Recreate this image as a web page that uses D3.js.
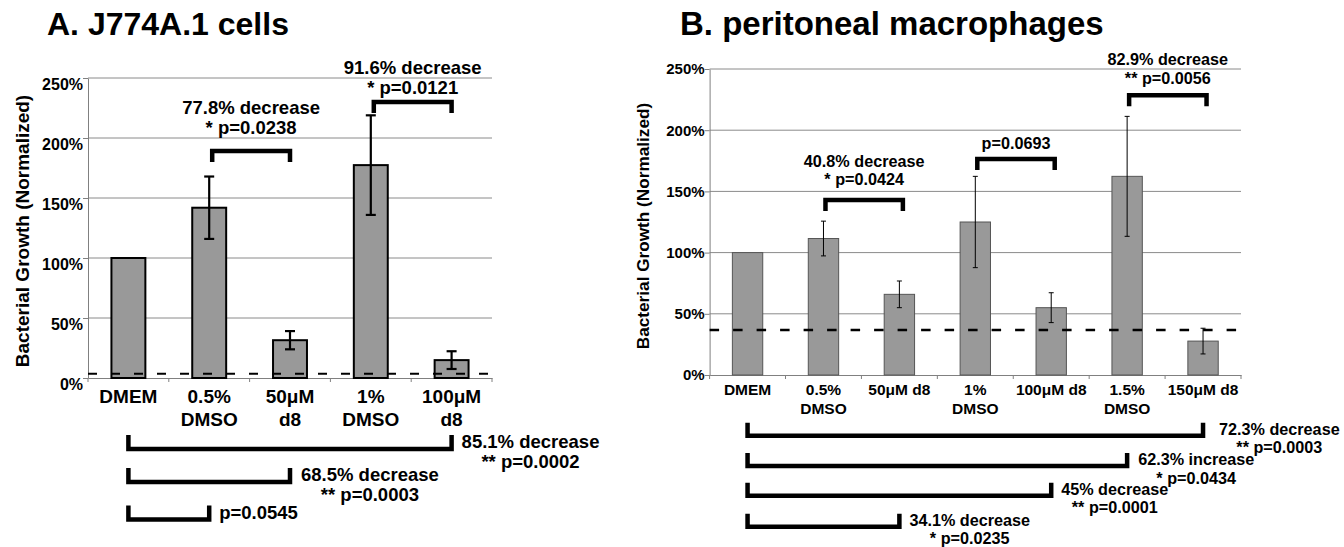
<!DOCTYPE html>
<html><head><meta charset="utf-8">
<script src="https://cdn.jsdelivr.net/npm/d3@7"></script>
<style>
body{margin:0;background:#fff}
svg{display:block}
text{font-family:"Liberation Sans",Arial,sans-serif;font-weight:bold;fill:#000}
</style>
</head><body>
<svg id="c" width="1344" height="547"></svg>
<script>
// ---------------- data ----------------
const yTicks = [0, 50, 100, 150, 200, 250];

const catsA = ["DMEM", "0.5%\nDMSO", "50μM\nd8", "1%\nDMSO", "100μM\nd8"];
const valsA = [100, 141.9, 31.5, 177.4, 14.9];
const errA  = [0, 26, 7.6, 41.5, 7.4];
const refA  = 3.5;
const topCompA = [
  {a: 1, b: 2, lines: ["77.8% decrease", "* p=0.0238"]},
  {a: 3, b: 4, lines: ["91.6% decrease", "* p=0.0121"]}
];
const botCompA = [
  {a: 0, b: 4, lines: ["85.1% decrease", "** p=0.0002"]},
  {a: 0, b: 2, lines: ["68.5% decrease", "** p=0.0003"]},
  {a: 0, b: 1, lines: ["p=0.0545"]}
];

const catsB = ["DMEM", "0.5%\nDMSO", "50μM d8", "1%\nDMSO", "100μM d8", "1.5%\nDMSO", "150μM d8"];
const valsB = [100, 111.5, 65.9, 125, 55, 162.3, 27.7];
const errB  = [0, 14.2, 10.9, 37.3, 12.2, 49, 10.5];
const refB  = 36.8;
const topCompB = [
  {a: 1, b: 2, lines: ["40.8% decrease", "* p=0.0424"]},
  {a: 3, b: 4, lines: ["p=0.0693"]},
  {a: 5, b: 6, lines: ["82.9% decrease", "** p=0.0056"]}
];
const botCompB = [
  {a: 0, b: 6, lines: ["72.3% decrease", "** p=0.0003"]},
  {a: 0, b: 5, lines: ["62.3% increase", "* p=0.0434"]},
  {a: 0, b: 4, lines: ["45% decrease", "** p=0.0001"]},
  {a: 0, b: 2, lines: ["34.1% decrease", "* p=0.0235"]}
];

// ---------------- layout ----------------
const svg = d3.select("#c");

function panel(P) {
  const g = svg.append("g");
  const x = d3.scaleBand().domain(P.cats).range([P.left, P.right]).padding(0);
  const y = d3.scaleLinear().domain([0, 250]).range([P.bottom, P.top]);
  const bw = x.bandwidth();
  const cx = i => x(P.cats[i]) + bw / 2;

  // title
  g.append("text").attr("x", P.titleX).attr("y", 35).attr("font-size", P.titleSize).text(P.title);

  // gridlines
  g.selectAll("line.grid").data(yTicks.filter(d => d > 0)).join("line")
    .attr("class", "grid")
    .attr("x1", P.left).attr("x2", P.right)
    .attr("y1", d => y(d)).attr("y2", d => y(d))
    .attr("stroke", "#8a8a8a").attr("stroke-width", 1);

  // y axis
  const ya = g.append("g").attr("transform", `translate(${P.left},0)`)
    .call(d3.axisLeft(y).tickValues(yTicks).tickFormat(d => d + "%").tickSize(5).tickSizeOuter(0).tickPadding(0));
  ya.select(".domain").attr("stroke", "#808080");
  ya.selectAll(".tick line").attr("stroke", "#808080");
  ya.selectAll(".tick text").attr("font-size", P.tickSize).attr("dy", P.tickDy).attr("fill", "#000");

  // x axis
  const xa = g.append("g").attr("transform", `translate(0,${P.bottom})`)
    .call(d3.axisBottom(x).tickSize(0).tickSizeOuter(0).tickFormat(""));
  xa.select(".domain").attr("stroke", "#808080");
  xa.selectAll(".tick").remove();
  g.selectAll("line.xt").data(d3.range(P.cats.length + 1)).join("line")
    .attr("class", "xt")
    .attr("x1", i => P.left + i * x.step()).attr("x2", i => P.left + i * x.step())
    .attr("y1", P.bottom).attr("y2", P.bottom + 4)
    .attr("stroke", "#808080");

  // category labels
  P.cats.forEach((c, i) => {
    const t = g.append("text").attr("text-anchor", "middle").attr("font-size", P.catSize);
    c.split("\n").forEach((ln, k) => {
      t.append("tspan").attr("x", cx(i)).attr("y", P.catBase + k * P.catLH).text(ln);
    });
  });

  // bars
  const barW = bw * P.barFrac;
  g.selectAll("rect.bar").data(P.vals).join("rect")
    .attr("class", "bar")
    .attr("x", (d, i) => cx(i) - barW / 2).attr("width", barW)
    .attr("y", d => y(d)).attr("height", d => P.bottom - y(d))
    .attr("fill", "#999999").attr("stroke", P.barStroke).attr("stroke-width", P.barStrokeW);

  // reference dashed line
  g.append("line").attr("x1", P.left).attr("x2", P.right)
    .attr("y1", y(P.ref)).attr("y2", y(P.ref))
    .attr("stroke", "#000").attr("stroke-width", P.dashW).attr("stroke-dasharray", P.dash);

  // error bars
  P.vals.forEach((v, i) => {
    const e = P.errs[i];
    if (!e) return;
    const xc = cx(i), y1 = y(v - e), y2 = y(v + e);
    g.append("line").attr("x1", xc).attr("x2", xc).attr("y1", y1).attr("y2", y2)
      .attr("stroke", "#000").attr("stroke-width", P.errW);
    [y1, y2].forEach(yy => g.append("line")
      .attr("x1", xc - P.capW / 2).attr("x2", xc + P.capW / 2).attr("y1", yy).attr("y2", yy)
      .attr("stroke", "#000").attr("stroke-width", P.errW));
  });

  // y label
  g.append("text").attr("text-anchor", "middle").attr("font-size", P.yLabSize)
    .attr("transform", `translate(${P.yLabX},${P.yLabY}) rotate(-90)`)
    .text("Bacterial Growth (Normalized)");

  // top comparisons
  P.topComp.forEach((c, k) => {
    const L = P.topLayout[k];
    const x1 = cx(c.a) + P.topDx[0], x2 = cx(c.b) + P.topDx[1];
    g.append("path")
      .attr("d", `M${x1},${L.by + P.leg}V${L.by}H${x2}V${L.by + P.leg}`)
      .attr("fill", "none").attr("stroke", "#000").attr("stroke-width", P.brW);
    const n = c.lines.length;
    c.lines.forEach((ln, j) => {
      g.append("text").attr("text-anchor", "middle").attr("font-size", P.annSize)
        .attr("x", (x1 + x2) / 2).attr("y", L.tb - (n - 1 - j) * P.annLH).text(ln);
    });
  });

  // bottom comparisons
  P.botComp.forEach((c, k) => {
    const L = P.botLayout[k];
    const x1 = cx(c.a), x2 = cx(c.b);
    g.append("path")
      .attr("d", `M${x1},${L.by - P.botLeg}V${L.by}H${x2}V${L.by - P.botLeg}`)
      .attr("fill", "none").attr("stroke", "#000").attr("stroke-width", P.brW);
    const sx = x2 + L.dx;
    const t1 = g.append("text").attr("font-size", P.annSize)
      .attr("x", sx).attr("y", L.by - 1).text(c.lines[0]);
    const w = t1.node().getComputedTextLength();
    c.lines.slice(1).forEach((ln, j) => {
      g.append("text").attr("text-anchor", "middle").attr("font-size", P.annSize)
        .attr("x", sx + w / 2).attr("y", L.by - 1 + (j + 1) * P.annLH).text(ln);
    });
  });
}

panel({
  title: "A. J774A.1 cells", titleX: 47, titleSize: 32,
  cats: catsA, vals: valsA, errs: errA, ref: refA,
  left: 88, right: 492, top: 78, bottom: 378,
  tickSize: 16, tickDy: "0.72em",
  catSize: 19, catBase: 403, catLH: 23,
  barFrac: 0.42, barStroke: "#000", barStrokeW: 2,
  dashW: 2, dash: "9,14",
  errW: 2.2, capW: 10,
  yLabSize: 19, yLabX: 29, yLabY: 231,
  topComp: topCompA, topLayout: [{by: 151, tb: 134}, {by: 102, tb: 94}],
  topDx: [3, 0], leg: 11, brW: 4.5,
  annSize: 18.5, annLH: 20,
  botComp: botCompA, botLayout: [{by: 449, dx: 10}, {by: 482, dx: 11}, {by: 519.5, dx: 10}],
  botLeg: 14
});

panel({
  title: "B. peritoneal macrophages", titleX: 680, titleSize: 33,
  cats: catsB, vals: valsB, errs: errB, ref: refB,
  left: 709.6, right: 1241, top: 69, bottom: 375,
  tickSize: 15, tickDy: "0.32em",
  catSize: 15.5, catBase: 395, catLH: 19,
  barFrac: 0.40, barStroke: "#555", barStrokeW: 1,
  dashW: 2.5, dash: "9.5,14",
  errW: 1, capW: 5,
  yLabSize: 17.2, yLabX: 649, yLabY: 226,
  topComp: topCompB, topLayout: [{by: 200, tb: 185}, {by: 159, tb: 149}, {by: 95.3, tb: 83.5}],
  topDx: [2, 3.5], leg: 11, brW: 4.5,
  annSize: 16.2, annLH: 18.5,
  botComp: botCompB, botLayout: [{by: 435.7, dx: 16}, {by: 466, dx: 11}, {by: 495.7, dx: 10}, {by: 526.7, dx: 10}],
  botLeg: 13
});
</script>
</body></html>
